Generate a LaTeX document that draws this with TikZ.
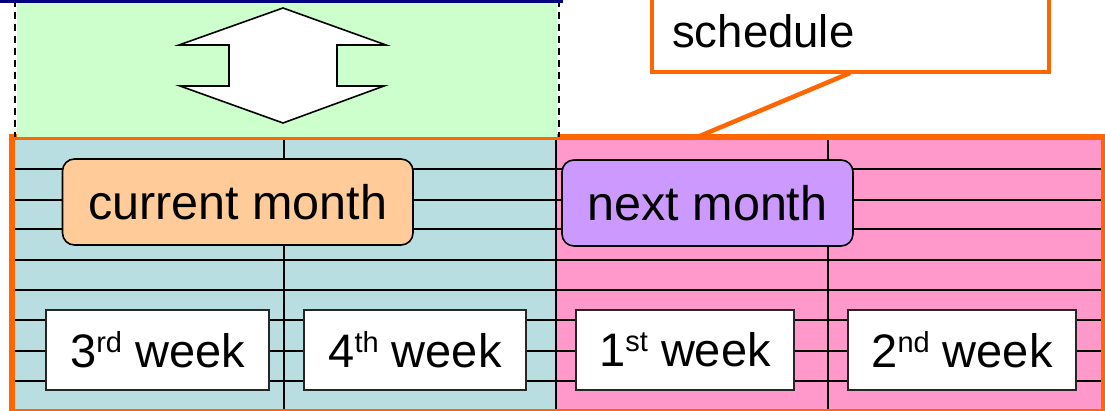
\documentclass[tikz,border=0pt]{standalone}
\usepackage{fontspec}
\setmainfont{Liberation Sans}
\definecolor{cteal}{RGB}{185,222,225}
\definecolor{cpink}{HTML}{FF99CC}
\definecolor{cgreen}{HTML}{CCFFCC}
\definecolor{corange}{HTML}{FF6600}
\definecolor{cpeach}{HTML}{FFCC99}
\definecolor{cpurple}{HTML}{CC99FF}
\definecolor{cnavy}{HTML}{000080}
\newcommand\supx[1]{\raisebox{15pt}{\fontsize{29}{29}\selectfont #1}}
\begin{document}
\begin{tikzpicture}[x=1pt,y=-1pt,
  gridline/.style={black, line width=2pt},
  monthbox/.style={draw=black, line width=1.6pt, rounded corners=12pt, inner sep=0pt, outer sep=0pt,
    minimum height=86pt, font=\fontsize{48.5}{52}\selectfont},
  weekbox/.style={draw=black!85, fill=white, line width=2pt, inner sep=0pt, outer sep=0pt,
    minimum height=80pt, font=\fontsize{47}{50}\selectfont},
  borderline/.style={draw=corange, line width=5.5pt},
  calloutline/.style={draw=corange, line width=4.5pt},
  guide/.style={black, line width=2pt, dash pattern=on 7pt off 5pt}
]
\useasboundingbox (0,0) rectangle (1105,411);
% schedule grid
\fill[cteal] (14,139) rectangle (556,410);
\fill[cpink] (556,139) rectangle (1103,410);
\foreach \yy in {169,200,229.5,260,290.5,320.5,350.5,380.5}
  \draw[gridline] (14,\yy) -- (1101,\yy);
\foreach \xx in {284,556,828}
  \draw[gridline] (\xx,139) -- (\xx,410);
\draw[borderline] (12,137) rectangle (1103.5,411.5);
% green display range
\fill[cgreen] (17,2) rectangle (557,137.5);
\draw[guide] (15,0) -- (15,137);
\draw[guide] (559,0) -- (559,137);
\draw[fill=white, line width=1.6pt, line join=miter]
  (283,8) -- (386,45) -- (337,45) -- (337,86) -- (384,86) -- (283,123)
  -- (180,86) -- (229,86) -- (229,45) -- (179,45) -- cycle;
\fill[cnavy] (0,0) rectangle (563,3);
% callout
\coordinate (p1) at (850,73);
\coordinate (p2) at (695,138);
\draw[calloutline] (p1) -- (p2);
\node[calloutline, fill=white, minimum width=397pt, minimum height=150pt,
  anchor=south west, inner sep=0pt, outer sep=0pt] (cb) at (652,72) {};
\node[anchor=base west, inner sep=0pt, font=\fontsize{45.5}{50}\selectfont] (ct) at (672,48) {schedule};
% month labels
\node[monthbox, fill=cpeach, minimum width=350.5pt] (cm) at (237.75,202) {current month};
\node[monthbox, fill=cpurple, minimum width=291pt] (nm) at (707.5,203) {next month};
% week labels
\node[weekbox, minimum width=223pt] (w3) at (157.5,350) {3\supx{rd} week};
\node[weekbox, minimum width=222pt] (w4) at (415,350) {4\supx{th} week};
\node[weekbox, minimum width=218pt] (w1) at (685,350) {1\supx{st} week};
\node[weekbox, minimum width=228pt] (w2) at (962,350) {2\supx{nd} week};
\end{tikzpicture}
\end{document}
